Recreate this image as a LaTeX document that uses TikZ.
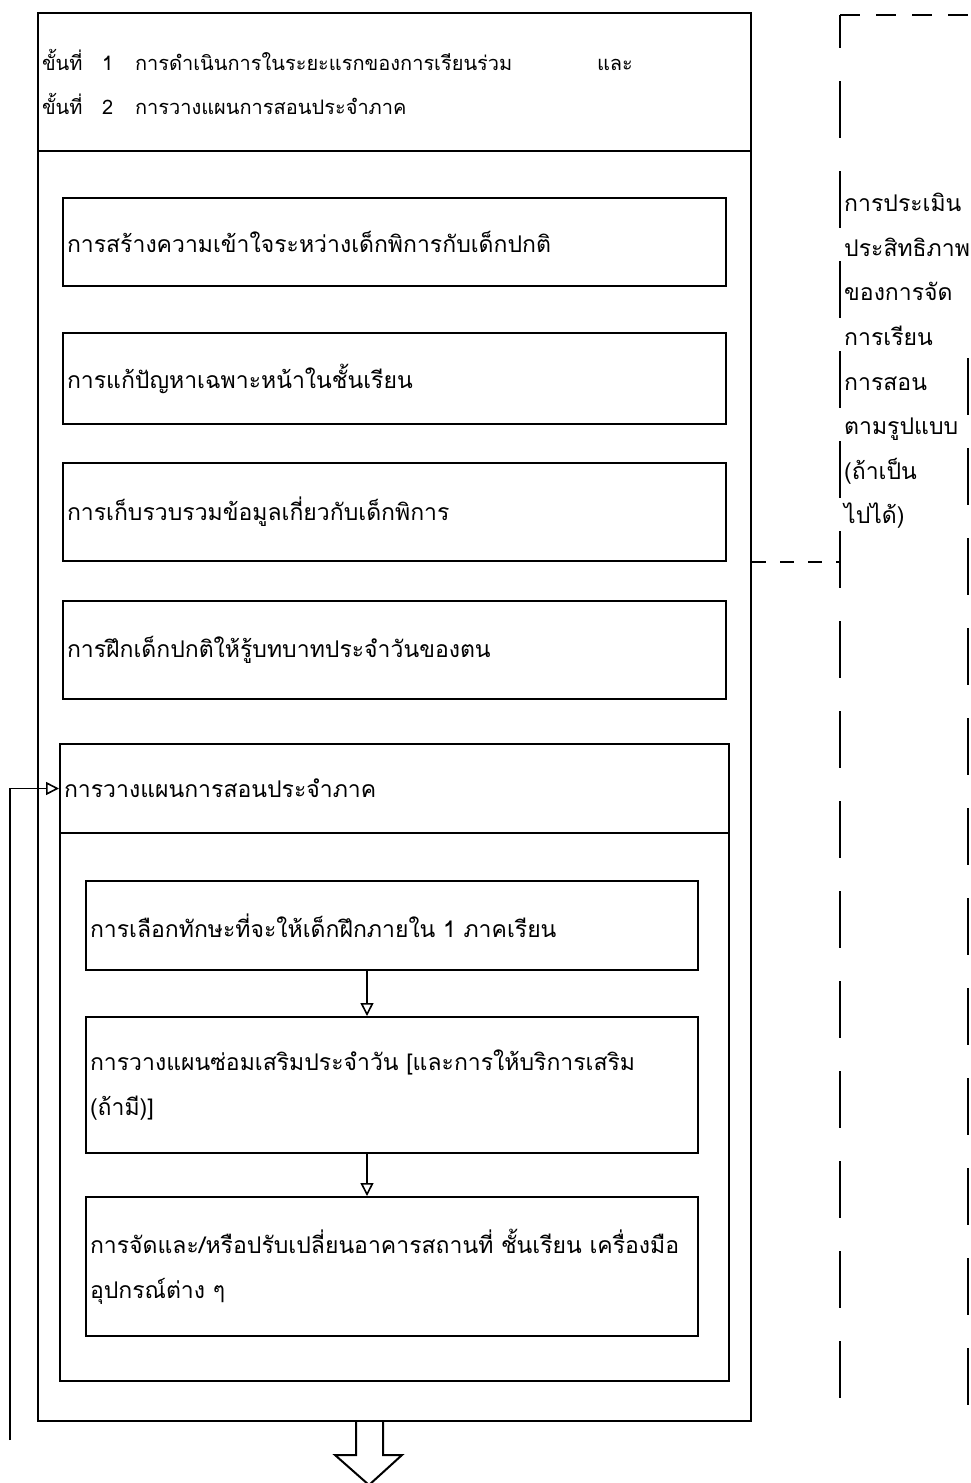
\documentclass[tikz,border=0pt]{standalone}
\usepackage{fontspec}
\newfontfamily\thai[Script=Thai]{Loma}
\newcommand\thaitext{\thai\fontsize{23}{44.6}\selectfont}
\newcommand\thaihead{\thai\fontsize{20}{44}\selectfont}
\usetikzlibrary{arrows.meta}
\begin{document}
\begin{tikzpicture}[x=1pt,y=-1pt,
  frame/.style={draw, line width=2pt, anchor=north west, inner xsep=4pt, inner ysep=0pt, align=left, font=\thaitext},
  arr/.style={line width=1.6pt, -{Triangle[open, length=13pt, width=13pt, line width=1.6pt]}},
  dline/.style={line width=2.4pt, dash pattern=on 57pt off 33pt},
  lbl/.style={font=\thaitext, inner sep=0pt, align=left}
]
\useasboundingbox (0,0) rectangle (970,1483);
% outer frame
\node[frame, font=\thaihead, text width=705pt, minimum height=138pt] (head) at (37,12)
  {\makebox[60pt][l]{ขั้นที่}\makebox[33pt][l]{1}\makebox[462pt][l]{การดำเนินการในระยะแรกของการเรียนร่วม}และ\\
   \makebox[60pt][l]{ขั้นที่}\makebox[33pt][l]{2}การวางแผนการสอนประจำภาค};
\node[frame, text width=705pt, minimum height=1270pt] (outer) at (37,150) {};
% first-stage boxes
\node[frame, text width=655pt, minimum height=88pt] (b1) at (62,197) {การสร้างความเข้าใจระหว่างเด็กพิการกับเด็กปกติ};
\node[frame, text width=655pt, minimum height=91pt] (b2) at (62,332) {การแก้ปัญหาเฉพาะหน้าในชั้นเรียน};
\node[frame, text width=655pt, minimum height=98pt] (b3) at (62,462) {การเก็บรวบรวมข้อมูลเกี่ยวกับเด็กพิการ};
\node[frame, text width=655pt, minimum height=98pt] (b4) at (62,600) {การฝึกเด็กปกติให้รู้บทบาทประจำวันของตน};
% planning block
\node[frame, text width=661pt, minimum height=89pt] (b5) at (59,743) {การวางแผนการสอนประจำภาค};
\node[frame, text width=661pt, minimum height=548pt] (b5body) at (59,832) {};
\node[frame, text width=604pt, minimum height=89pt] (b6) at (85,880) {การเลือกทักษะที่จะให้เด็กฝึกภายใน 1 ภาคเรียน};
\node[frame, text width=604pt, minimum height=136pt] (b7) at (85,1016) {การวางแผนซ่อมเสริมประจำวัน [และการให้บริการเสริม\\(ถ้ามี)]};
\node[frame, text width=604pt, minimum height=139pt] (b8) at (85,1196) {การจัดและ/หรือปรับเปลี่ยนอาคารสถานที่ ชั้นเรียน เครื่องมือ\\อุปกรณ์ต่าง ๆ};
% connectors inside planning block
\coordinate (ax) at (367,0);
\draw[arr] (b6.south -| ax) -- (b7.north -| ax);
\draw[arr] (b7.south -| ax) -- (b8.north -| ax);
% feedback loop
\coordinate (fb) at (10,1440);
\draw[arr] (fb) |- (b5.west);
% big outlined arrow
\coordinate (bl) at (356,0);
\coordinate (br) at (383,0);
\draw[line width=2pt, line join=miter] (outer.south -| bl) -- ++(0,33) -- ++(-21,0) -- ++(34,30) -- ++(33,-30) -- ++(-19,0) -- (outer.south -| br);
% evaluation column
\coordinate (ctop) at (840,15);
\coordinate (cbot) at (840,1420);
\coordinate (rtop) at (968,358);
\coordinate (rbot) at (968,1420);
\coordinate (tr) at (970,15);
\draw[line width=2.4pt, dash pattern=on 20pt off 16pt] (ctop) -- (tr);
\draw[dline, dash phase=24pt] (ctop) -- (cbot);
\draw[dline, dash phase=0pt] (rtop) -- (rbot);
\coordinate (jn) at (840,562);
\draw[line width=2pt, dash pattern=on 14pt off 14pt] (outer.east |- jn) -- (jn);
\node[lbl, anchor=west] (eval) at (844,361)
  {การประเมิน\\ประสิทธิภาพ\\ของการจัด\\การเรียน\\การสอน\\ตามรูปแบบ\\(ถ้าเป็น\\ไปได้)};
\end{tikzpicture}
\end{document}
